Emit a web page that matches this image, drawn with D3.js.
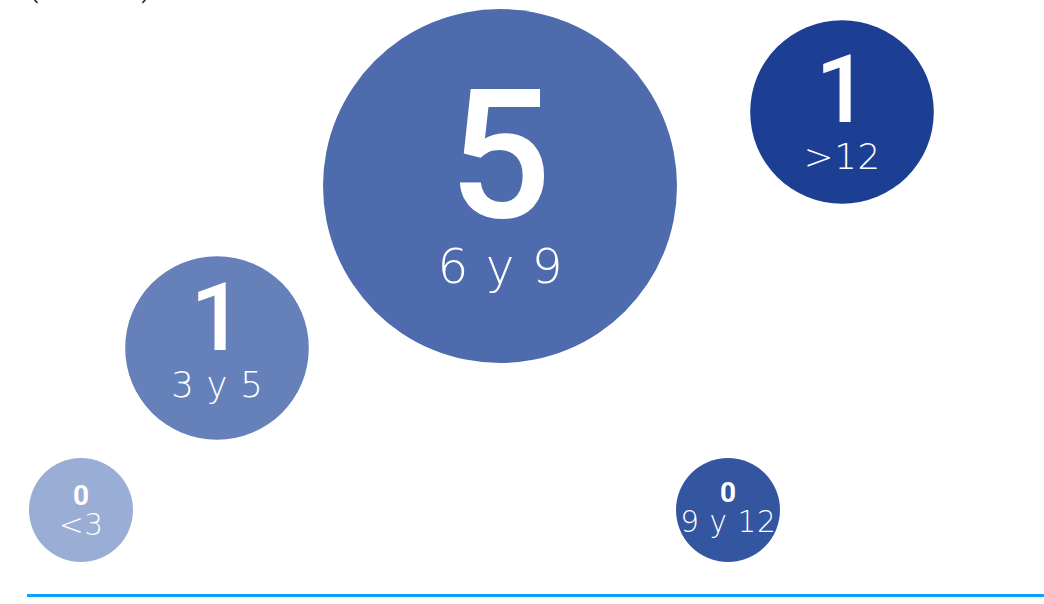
<!DOCTYPE html>
<html>
<head>
<meta charset="utf-8">
<script src="https://cdn.jsdelivr.net/npm/d3@7/dist/d3.min.js"></script>
<style>
  html, body { margin: 0; padding: 0; background: #ffffff; }
  svg { display: block; }
</style>
</head>
<body>
<svg id="chart" width="1044" height="604"></svg>
<script>
// ---- data ----
const categories = ["<3", "3 y 5", "6 y 9", "9 y 12", ">12"];
const values = [0, 1, 5, 0, 1];
const subtitle = "(en meses)";

// ---- layout (bubble centres and text offsets, in pixels) ----
const layoutX = [81, 217, 500, 728, 842];
const layoutY = [510, 348, 186, 510, 112];
const textDy = [0, -8, 0, -3, 0];
const colors = ["#9AADD4", "#6681BA", "#4E6BAD", "#3455A0", "#1D3F93"];

const W = 1044, H = 604;
const svg = d3.select("#chart");

// radius: area grows linearly with the value
const areaScale = d3.scaleLinear().domain([0, 5]).range([52 * 52, 177 * 177]);
const rOf = v => Math.sqrt(areaScale(v));

const data = categories.map((c, i) => ({
  cat: c, value: values[i], cx: layoutX[i], cy: layoutY[i], dy: textDy[i], color: colors[i], r: rOf(values[i])
}));

// subtitle, mostly cut off at the top
svg.append("text")
  .attr("x", 30).attr("y", -2.5)
  .attr("font-family", "Roboto, sans-serif")
  .attr("font-size", 24)
  .attr("fill", "#222")
  .text(subtitle);

const g = svg.selectAll("g.bubble").data(data).join("g").attr("class", "bubble");

g.append("circle")
  .attr("cx", d => d.cx).attr("cy", d => d.cy).attr("r", d => d.r)
  .attr("fill", d => d.color);

const CAP = 0.711, CAPL = 0.729;
g.each(function(d) {
  const sel = d3.select(this);
  const numSize = d.value > 0 ? d.r * 1.02 : 28;
  const labSize = (22 + 0.155 * d.r) * 0.98;
  const gap = d.value > 0 ? 10 + 0.12 * d.r : 9;
  const capN = numSize * CAP, capL = labSize * CAPL;
  const total = capN + gap + capL;
  const top = d.cy + d.dy - total / 2;
  const nb = top + capN;
  const lb = nb + gap + capL;
  const ls = 0.02 * labSize;
  sel.append("text")
    .attr("x", d.cx).attr("y", nb)
    .attr("text-anchor", "middle")
    .attr("font-family", "Roboto, sans-serif")
    .attr("font-weight", d.value > 0 ? 500 : 700)
    .attr("font-size", numSize)
    .attr("fill", "#ffffff")
    .text(d.value);
  sel.append("text")
    .attr("x", d.cx + ls / 2).attr("y", lb)
    .attr("text-anchor", "middle")
    .attr("font-family", "'DejaVu Sans', sans-serif")
    .attr("font-weight", 200)
    .attr("font-size", labSize)
    .attr("letter-spacing", ls)
    .attr("fill", "#ffffff")
    .text(d.cat);
});

// bottom rule
svg.append("line")
  .attr("x1", 27).attr("x2", W).attr("y1", 595.5).attr("y2", 595.5)
  .attr("stroke", "#0AA3F7").attr("stroke-width", 3);
</script>
</body>
</html>
